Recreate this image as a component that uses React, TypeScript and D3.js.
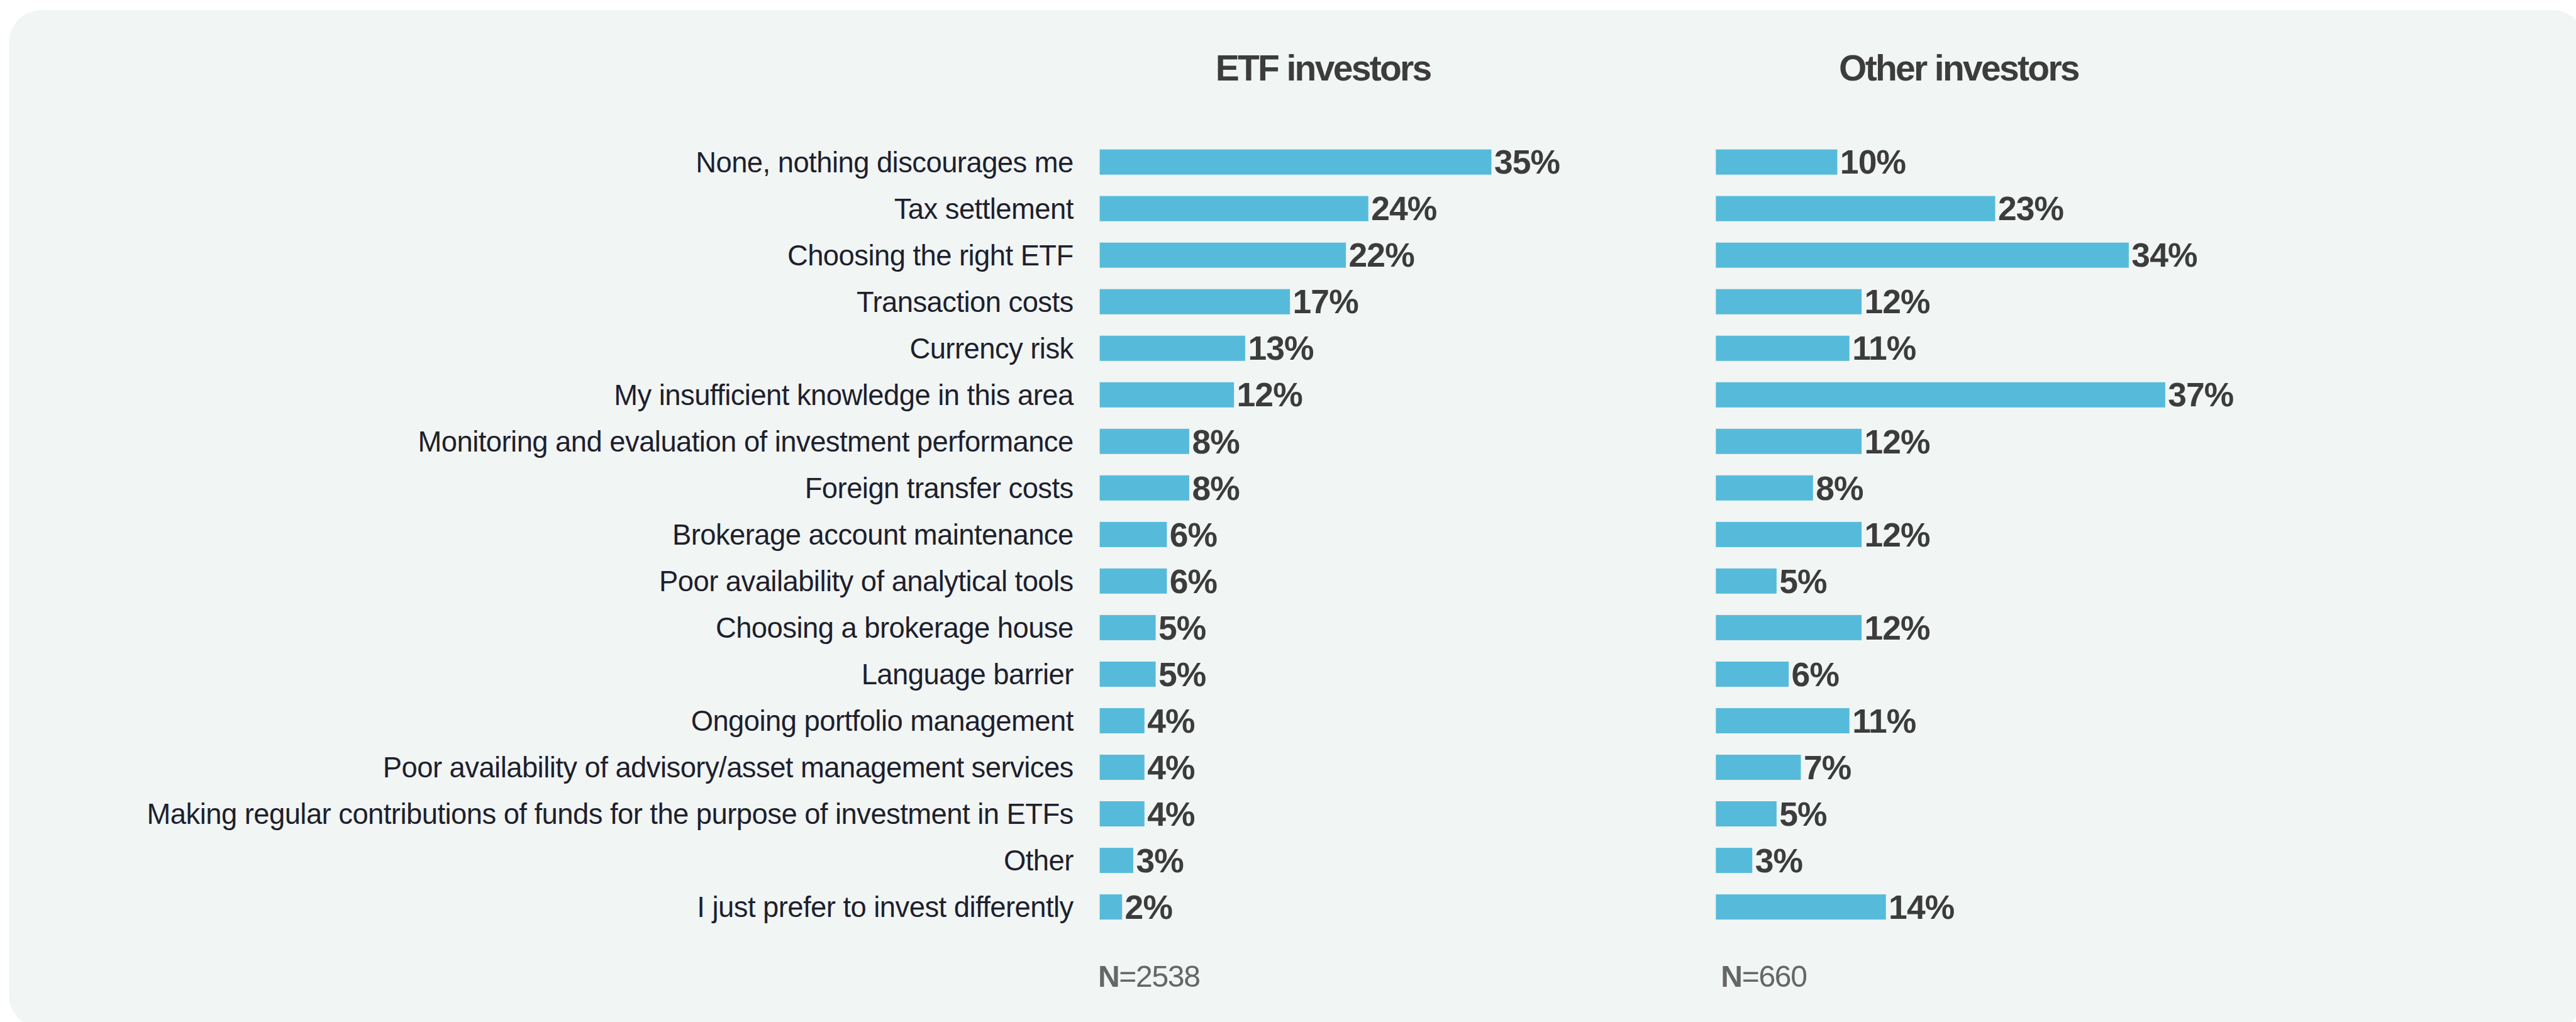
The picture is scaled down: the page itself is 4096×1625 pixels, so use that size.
import { useEffect, useRef } from 'react'
import * as d3 from 'd3'

const categories = [
  'None, nothing discourages me',
  'Tax settlement',
  'Choosing the right ETF',
  'Transaction costs',
  'Currency risk',
  'My insufficient knowledge in this area',
  'Monitoring and evaluation of investment performance',
  'Foreign transfer costs',
  'Brokerage account maintenance',
  'Poor availability of analytical tools',
  'Choosing a brokerage house',
  'Language barrier',
  'Ongoing portfolio management',
  'Poor availability of advisory/asset management services',
  'Making regular contributions of funds for the purpose of investment in ETFs',
  'Other',
  'I just prefer to invest differently',
]

const etfValues = [35, 24, 22, 17, 13, 12, 8, 8, 6, 6, 5, 5, 4, 4, 4, 3, 2]
const otherValues = [10, 23, 34, 12, 11, 37, 12, 8, 12, 5, 12, 6, 11, 7, 5, 3, 14]

const panelTitles = ['ETF investors', 'Other investors']
const sampleSizes = ['2538', '660']

// reference size; the svg is scaled down to the window through the viewBox
const W = 4603
const H = 1826

const FONT = '"Liberation Sans", Arial, sans-serif'
const BAR = '#56bbdb'

export default function App() {
  const svgRef = useRef<SVGSVGElement>(null)

  useEffect(() => {
    if (!svgRef.current) return
    const svg = d3.select(svgRef.current)
    svg.selectAll('*').remove()

    svg.append('rect')
      .attr('x', 16)
      .attr('y', 18)
      .attr('width', W)
      .attr('height', H - 8)
      .attr('rx', 58)
      .style('fill', '#f1f5f4')

    const y = d3.scaleBand<string>()
      .domain(categories)
      .range([267, 1643])
      .paddingInner(0.459)
      .paddingOuter(0)

    const bw = y.bandwidth()

    // category labels
    svg.append('g')
      .selectAll('text')
      .data(categories)
      .enter()
      .append('text')
      .attr('x', 1918)
      .attr('y', (d) => (y(d) ?? 0) + bw / 2 + 18)
      .attr('text-anchor', 'end')
      .style('font-family', FONT)
      .style('font-size', '51px')
      .style('letter-spacing', '-0.6px')
      .style('fill', '#1f1f2d')
      .text((d) => d)

    const panels = [
      { title: panelTitles[0], n: sampleSizes[0], values: etfValues, x0: 1965, max: 35, width: 700, titleX: 2364, nDx: -3 },
      { title: panelTitles[1], n: sampleSizes[1], values: otherValues, x0: 3066, max: 37, width: 803, titleX: 3500, nDx: 9 },
    ]

    panels.forEach((p) => {
      const x = d3.scaleLinear().domain([0, p.max]).range([p.x0, p.x0 + p.width])
      const g = svg.append('g')

      g.append('text')
        .attr('x', p.titleX)
        .attr('y', 144)
        .attr('text-anchor', 'middle')
        .style('font-family', FONT)
        .style('font-size', '64px')
        .style('font-weight', 700)
        .style('letter-spacing', '-3px')
        .style('fill', '#3c3c3c')
        .text(p.title)

      const rows = categories.map((c, i) => ({ c, v: p.values[i] }))

      g.selectAll('.bar')
        .data(rows)
        .enter()
        .append('rect')
        .attr('class', 'bar')
        .attr('x', x(0))
        .attr('y', (d) => y(d.c) ?? 0)
        .attr('width', (d) => x(d.v) - x(0))
        .attr('height', bw)
        .style('fill', BAR)

      g.selectAll('.val')
        .data(rows)
        .enter()
        .append('text')
        .attr('class', 'val')
        .attr('x', (d) => x(d.v) + 5)
        .attr('y', (d) => (y(d.c) ?? 0) + bw / 2 + 21)
        .style('font-family', FONT)
        .style('font-size', '60px')
        .style('font-weight', 700)
        .style('letter-spacing', '-1px')
        .style('fill', '#3c3c3c')
        .text((d) => `${d.v}%`)

      const n = g.append('text')
        .attr('x', p.x0 + p.nDx)
        .attr('y', 1763)
        .style('font-family', FONT)
        .style('font-size', '54px')
        .style('letter-spacing', '-1.5px')
        .style('fill', '#666666')
      n.append('tspan').style('font-weight', 700).text('N')
      n.append('tspan').text(`=${p.n}`)
    })
  }, [])

  return (
    <svg
      ref={svgRef}
      width={4096}
      height={1625}
      viewBox={`0 0 ${W} ${H}`}
      style={{ position: 'fixed', left: 0, top: 0, background: '#ffffff' }}
    />
  )
}
